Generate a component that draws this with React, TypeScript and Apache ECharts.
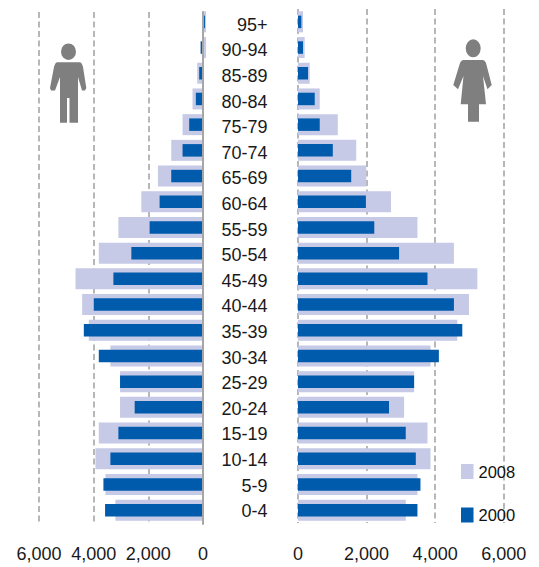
import React, { useEffect, useRef } from "react";
import * as echarts from "echarts";

const ageGroups = ["95+","90-94","85-89","80-84","75-79","70-74","65-69","60-64","55-59","50-54","45-49","40-44","35-39","30-34","25-29","20-24","15-19","10-14","5-9","0-4"];
const men2008 = [-130,-130,195,366,732,1147,1635,2245,3087,3806,4660,4416,4172,3380,3026,3026,3806,3928,3562,3196];
const men2000 = [-90,70,122,244,488,732,1147,1574,1940,2611,3270,3990,4355,3806,3026,2489,3087,3380,3636,3575];
const women2008 = [146,195,342,634,1161,1698,1990,2713,3484,4548,5231,4987,4646,3865,3387,3094,3777,3865,3484,3143];
const women2000 = [98,146,293,488,634,1015,1552,1981,2225,2948,3777,4548,4792,4109,3387,2655,3143,3436,3572,3484];

const LIGHT = "#c6cae6";
const DARK = "#005bac";
const GRID_LINE = "#a6a6a6";
const TEXT = "#1a1a1a";
const ICON = "#7f7f7f";
const FONT = "Liberation Sans, Arial, sans-serif";

const manPath = "M61 51.7a7.5 8.3 0 1 0 15 0a7.5 8.3 0 1 0 -15 0Z M57 62.3L80 62.3Q82 63 83 67L86.3 88L85 90.5L82 90.5L78 77L78 122.7L69.5 122.7L69.5 98L67 98L67 122.7L60 122.7L60 77L55 90.5L51 90.5L50 88L54 67Q55 63 57 62.3Z";
const womanPath = "M465.7 48.3a7.5 9 0 1 0 15 0a7.5 9 0 1 0 -15 0Z M463 60L483 60Q485 60.5 486 63L491.7 85L487.5 89.3L483 76L486 104.3L479 104.3L479 121.7L468 121.7L468 104.3L460.7 104.3L463.5 76L458 89.3L453.3 85L460 63Q461 60.5 463 60Z";

echarts.graphic.registerShape("manIcon", echarts.graphic.extendPath(manPath, {}));
echarts.graphic.registerShape("womanIcon", echarts.graphic.extendPath(womanPath, {}));

const valueAxis = (gridIndex: number, inverse: boolean, margin: number) => ({
  type: "value" as const,
  gridIndex,
  inverse,
  min: 0,
  max: 6000,
  interval: 2000,
  axisLine: { show: false },
  axisTick: { show: false },
  axisLabel: { fontFamily: FONT, fontSize: 18, color: TEXT, margin },
  splitLine: { show: true, lineStyle: { color: GRID_LINE, width: 1.6, type: [6, 3.5] } },
});

const hiddenCat = (gridIndex: number) => ({
  type: "category" as const,
  gridIndex,
  inverse: true,
  data: ageGroups,
  show: false,
});

const bar = (name: string, data: number[], color: string, width: number, xAxisIndex: number, yAxisIndex: number) => ({
  type: "bar" as const,
  name,
  data,
  xAxisIndex,
  yAxisIndex,
  barWidth: width,
  clip: false,
  itemStyle: { color },
});

export default function App() {
  const ref = useRef<HTMLDivElement>(null);
  useEffect(() => {
    const chart = echarts.init(ref.current!, null, { renderer: "svg" });
    chart.setOption({
      animation: false,
      backgroundColor: "#fff",
      grid: [
        { left: 39, width: 163.5, top: 9, height: 514 },
        { left: 298, width: 205.7, top: 9, height: 514 },
        { left: 39, width: 164, top: 12, height: 512 },
      ],
      xAxis: [
        { type: "value", gridIndex: 0, inverse: true, min: 0, max: 6000, interval: 2000, show: false },
        valueAxis(1, false, 22),
        valueAxis(2, true, 21),
      ],
      yAxis: [
        hiddenCat(0),
        hiddenCat(0),
        hiddenCat(1),
        hiddenCat(1),
        {
          type: "category",
          gridIndex: 2,
          inverse: true,
          position: "right",
          data: ageGroups,
          z: 5,
          axisLine: { show: true, lineStyle: { color: GRID_LINE, width: 2 } },
          axisTick: { show: false },
          axisLabel: { interval: 0, align: "right", margin: 64.5, fontFamily: FONT, fontSize: 18, color: TEXT },
        },
      ],
      legend: {
        left: 461,
        top: 463,
        padding: 0,
        orient: "vertical",
        itemWidth: 12.5,
        itemHeight: 15,
        itemGap: 26.5,
        data: ["2008", "2000"],
        icon: "rect",
        textStyle: { fontFamily: FONT, fontSize: 16.5, color: "#111" },
      },
      graphic: [
        { type: "manIcon", x: 0, y: 0, style: { fill: ICON } },
        { type: "womanIcon", x: 0, y: 0, style: { fill: ICON } },
      ],
      series: [
        bar("2008", men2008, LIGHT, 21, 0, 0),
        bar("2000", men2000, DARK, 12.5, 0, 1),
        bar("2008", women2008, LIGHT, 21, 1, 2),
        bar("2000", women2000, DARK, 12.5, 1, 3),
      ],
    });
    return () => chart.dispose();
  }, []);
  return <div ref={ref} style={{ position: "fixed", left: 0, top: 0, width: 539, height: 567 }} />;
}
